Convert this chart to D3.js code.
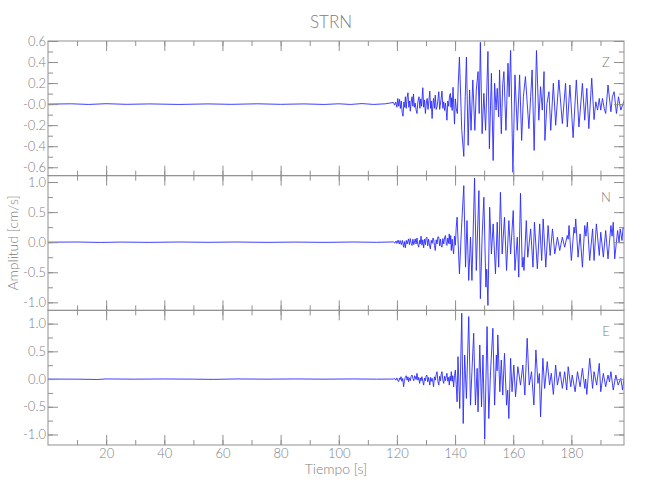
<!DOCTYPE html>
<html><head><meta charset="utf-8">
<script src="https://cdn.jsdelivr.net/npm/d3@7/dist/d3.min.js"></script>
<style>body{margin:0;background:#fff}text{font-family:Lato,"DejaVu Sans Condensed",sans-serif;font-weight:300;fill:#808080}</style>
</head><body><svg id="c" width="650" height="500"></svg>
<script>
// ---------- data ----------
const zTime=[0,8,14,20,27,35,45,55,63,72,80,88,95,100,104,108,112,116,
118.8,119.2,119.6,120.0,120.3,120.6,120.9,121.2,121.5,121.8,122.1,122.4,122.7,122.9,123.2,123.5,123.8,124.1,124.4,124.6,124.9,125.2,125.5,125.7,126.0,126.3,126.6,126.9,127.2,127.6,127.9,128.2,128.5,128.9,129.2,129.5,129.8,130.1,130.4,130.7,131.0,131.3,131.6,131.8,132.1,132.4,132.6,132.9,133.2,133.5,133.8,134.1,134.4,134.7,134.9,135.2,135.5,135.8,136.1,136.4,136.7,137.0,137.2,137.5,137.8,138.1,138.4,138.6,138.8,139.0,139.3,139.6,139.8,140.1,140.4,140.8,141.1,
141.5,142.3,143.0,143.5,143.9,144.5,145.0,145.5,146.1,146.8,147.3,147.9,148.3,148.7,149.3,149.9,150.5,151.3,151.8,152.5,153.1,153.6,154.1,154.5,155.0,155.3,155.9,156.4,156.8,157.5,158.2,158.6,159.1,159.9,160.6,161.4,162.2,162.9,163.5,164.2,165.4,166.0,166.5,167.2,168.0,168.8,169.4,170.0,170.6,170.9,171.6,172.3,172.9,173.8,174.6,175.7,176.9,178.0,178.6,179.5,180.6,181.7,182.6,183.8,184.6,185.3,186.0,187.0,187.8,188.4,189.0,189.6,190.1,190.7,191.3,191.8,192.6,193.6,194.1,194.7,195.5,196.2,197.0,198.2];
const zAmp=[0,0.003,-0.003,0.004,-0.002,0.002,-0.003,0.002,-0.002,0.003,-0.002,0.002,-0.003,0.003,-0.003,0.005,-0.003,0.003,
0.016,-0.010,0.020,-0.030,0.054,-0.020,0.045,-0.041,0.030,-0.080,-0.115,0.020,-0.030,0.070,-0.040,0.060,0.108,-0.030,0.030,-0.067,0.020,0.070,-0.020,0.096,-0.030,0.010,-0.057,-0.089,0.020,0.070,-0.040,0.050,-0.020,0.156,-0.030,0.040,-0.089,0.010,0.054,-0.050,0.030,0.124,-0.040,0.030,-0.137,0.010,0.054,-0.040,0.086,-0.050,-0.026,0.040,0.118,-0.050,-0.010,0.050,0.124,-0.040,0.022,-0.060,0.010,-0.080,-0.153,0.030,-0.020,0.080,0.102,-0.030,0.060,-0.060,0.160,-0.050,-0.190,0.050,-0.040,-0.090,0.200,
0.447,-0.249,-0.497,0.070,0.447,-0.392,0.134,-0.249,0.230,-0.249,0.134,0.309,-0.089,0.587,-0.281,0.102,-0.249,0.501,-0.424,0.293,-0.536,0.198,-0.057,0.150,-0.121,0.325,-0.281,0.198,0.309,-0.249,0.389,0.070,0.510,-0.648,0.278,-0.249,0.278,-0.345,0.070,0.262,-0.233,0.070,0.325,-0.440,0.510,-0.153,0.166,-0.057,0.309,-0.345,0.006,0.118,-0.249,0.198,-0.201,0.230,-0.185,0.198,-0.217,0.182,-0.319,0.230,-0.217,0.198,-0.153,0.150,-0.233,0.246,-0.147,0.022,-0.057,0.054,-0.057,0.054,-0.041,-0.089,0.182,-0.073,0.070,0.118,-0.089,0.070,-0.057,0.038];

const nTime=[0,10,18,25,35,45,55,65,75,85,95,105,113,
118.8,119.3,119.7,120.0,120.4,120.8,121.1,121.5,121.9,122.3,122.6,122.9,123.2,123.5,124.0,124.3,124.6,124.9,125.2,125.5,125.8,126.3,126.6,126.9,127.2,127.5,127.8,128.0,128.3,128.6,128.9,129.2,129.5,129.8,130.0,130.3,130.6,130.9,131.2,131.5,131.8,132.1,132.4,132.6,132.9,133.2,133.5,133.8,134.1,134.4,134.7,135.0,135.2,135.5,135.8,136.1,136.4,136.7,137.0,137.2,137.5,137.8,138.0,138.3,138.5,138.7,139.0,139.2,139.5,139.8,140.1,140.4,
140.7,141.5,142.2,143.0,143.6,144.1,144.7,145.3,145.8,146.7,147.3,148.2,148.7,149.3,149.9,150.6,150.9,151.3,151.9,152.5,153.1,153.9,154.5,155.0,155.6,156.2,157.0,157.7,158.5,159.1,160.0,160.6,161.4,161.9,162.5,163.1,163.4,163.7,164.5,165.0,166.0,166.8,167.3,168.3,169.1,169.8,170.3,171.2,172.0,172.7,173.5,174.3,175.2,176.0,176.9,177.7,178.6,178.9,179.2,180.0,180.9,181.2,181.5,182.3,183.0,183.8,184.6,185.0,185.5,186.3,187.3,187.8,188.6,189.6,190.1,191.0,191.8,192.6,193.6,194.0,194.4,194.9,195.9,196.4,196.8,197.4,197.8,198.3];
const nAmp=[0,0.003,-0.004,0.002,-0.003,0.003,-0.002,0.003,-0.003,0.002,-0.003,0.003,-0.002,
0.004,-0.015,0.020,-0.020,0.035,-0.030,0.028,-0.040,0.030,-0.083,0.010,-0.094,0.030,-0.030,0.055,-0.040,0.060,-0.020,-0.055,0.050,-0.040,0.055,-0.030,0.070,-0.040,-0.083,0.030,-0.030,0.100,-0.050,0.040,-0.094,0.050,-0.040,0.060,0.083,-0.060,0.050,-0.050,-0.111,0.030,-0.020,0.070,0.055,-0.050,-0.138,0.040,-0.030,0.090,0.083,-0.060,0.050,-0.050,-0.083,0.060,-0.030,0.080,0.111,-0.040,-0.055,0.070,-0.020,0.138,-0.030,0.110,-0.138,0.050,-0.080,-0.194,0.100,-0.050,0.250,
0.415,-0.525,0.221,0.940,-0.415,0.359,-0.636,0.083,-0.636,1.067,-0.470,0.857,-0.940,0.083,0.747,-0.747,-0.450,-1.051,0.581,-0.194,0.304,-0.525,0.332,-0.415,0.830,-0.194,0.415,-0.470,0.359,-0.194,0.525,-0.470,0.083,-0.581,0.813,-0.415,-0.250,-0.470,0.359,-0.249,0.221,-0.415,0.332,-0.442,0.304,-0.304,0.387,-0.415,0.277,-0.221,0.221,-0.194,0.083,-0.138,0.083,-0.083,0.111,0.050,0.277,-0.304,0.249,0.150,0.387,-0.249,0.138,-0.415,0.277,0.100,0.332,-0.304,0.221,-0.304,0.304,-0.221,0.166,-0.249,0.194,-0.277,0.277,0.100,0.332,-0.277,0.194,0.000,0.221,0.028,0.250,0.200];

const eTime=[0,10,17,20,30,40,50,57,65,75,85,95,105,113,
118.8,119.2,119.6,120.0,120.3,120.6,120.9,121.1,121.4,121.7,122.0,122.3,122.6,122.9,123.2,123.5,123.8,124.0,124.3,124.6,124.9,125.2,125.5,125.8,126.1,126.3,126.6,126.9,127.2,127.5,127.8,128.1,128.3,128.6,128.9,129.2,129.5,129.8,130.0,130.3,130.6,130.9,131.3,131.6,131.8,132.1,132.4,132.6,132.9,133.2,133.5,133.8,134.1,134.4,134.7,135.0,135.2,135.5,135.8,136.1,136.4,136.7,137.0,137.2,137.5,137.8,138.0,138.3,138.5,138.7,139.0,139.2,139.5,139.8,140.1,140.4,
140.7,141.0,141.6,142.3,142.8,143.3,143.9,144.7,145.3,145.8,146.4,147.0,147.6,147.9,148.5,149.1,149.6,150.2,151.0,151.6,152.2,153.0,153.6,154.2,154.45,154.7,155.4,155.9,156.4,157.0,157.7,158.1,158.5,159.1,159.6,160.2,160.8,161.6,162.5,163.3,164.0,164.8,165.5,166.3,167.1,167.8,168.5,169.0,169.4,170.2,170.8,171.7,172.5,173.1,173.8,174.6,175.2,176.1,176.9,177.7,178.4,178.9,179.8,180.3,181.3,182.1,183.0,183.8,184.6,184.9,185.3,186.3,187.3,187.8,188.7,189.6,190.1,191.0,191.8,192.6,193.1,193.6,194.4,195.3,196.1,197.0,197.6,198.4];
const eAmp=[0,-0.002,-0.008,0.002,-0.002,0.002,-0.002,-0.006,0.002,-0.002,0.002,-0.002,0.002,-0.002,
0.000,0.010,-0.020,0.020,-0.030,-0.048,0.020,-0.010,0.042,-0.040,0.010,-0.139,-0.020,0.030,0.060,-0.020,0.040,-0.048,0.020,-0.030,0.050,0.072,0.010,-0.030,0.060,0.042,-0.010,0.103,-0.020,0.030,-0.078,0.020,-0.030,0.042,-0.040,-0.109,0.020,-0.030,0.050,0.072,-0.050,0.030,-0.109,0.030,-0.040,0.012,-0.060,-0.139,0.040,-0.020,0.080,0.133,-0.040,-0.109,0.050,-0.030,0.080,0.133,-0.020,-0.078,0.050,-0.030,0.060,0.103,-0.040,0.030,-0.109,0.050,-0.030,0.133,-0.040,0.060,-0.139,0.060,0.163,-0.100,
-0.410,0.404,-0.531,1.188,-0.802,0.434,-0.350,1.128,-0.470,0.133,0.826,-0.470,0.193,-0.591,0.615,-0.500,0.434,-1.085,0.947,-0.712,0.133,0.917,-0.470,0.434,0.150,0.796,-0.229,0.344,-0.289,0.464,-0.470,-0.200,-0.712,0.374,-0.229,0.253,-0.320,0.223,-0.109,0.253,-0.289,0.736,-0.109,0.133,-0.470,0.525,-0.078,0.100,-0.681,0.374,-0.169,0.314,-0.109,0.103,-0.277,0.253,-0.109,0.133,-0.169,0.133,-0.199,0.223,-0.139,0.072,-0.229,0.133,-0.139,0.193,-0.169,0.000,-0.277,0.374,-0.169,0.133,-0.109,0.283,-0.229,0.103,-0.139,0.072,-0.050,0.133,-0.199,0.072,-0.109,0.012,-0.199,0.133];

const componentNames=["Z","N","E"];
const yDomains=[[-0.68,0.60],[-1.133,1.106],[-1.19,1.24]];
const yMajor=[[-0.6,-0.4,-0.2,0,0.2,0.4,0.6],[-1,-0.5,0,0.5,1],[-1,-0.5,0,0.5,1]];
const yMajorLabels=[["-0.6","-0.4","-0.2","-0.0","0.2","0.4","0.6"],["-1.0","-0.5","0.0","0.5","1.0"],["-1.0","-0.5","0.0","0.5","1.0"]];
const yMinor=[[-0.6,-0.5,-0.4,-0.3,-0.2,-0.1,0,0.1,0.2,0.3,0.4,0.5,0.6],[-1,-0.75,-0.5,-0.25,0,0.25,0.5,0.75,1],[-1,-0.75,-0.5,-0.25,0,0.25,0.5,0.75,1]];
const xMajor=[20,40,60,80,100,120,140,160,180];
const xMinor=[10,20,30,40,50,60,70,80,90,100,110,120,130,140,150,160,170,180,190];
const xDomain=[0,198.1];
const titleText="STRN", xLabel="Tiempo  [s]", yLabel="Amplitud  [cm/s]";

// ---------- drawing ----------
const series=[[zTime,zAmp],[nTime,nAmp],[eTime,eAmp]];
const svg=d3.select("#c");
const L=48,R=624,T=41,B=445;
const ph=(B-T)/3;
const x=d3.scaleLinear().domain(xDomain).range([L,R]);
const axisCol="#909090";

svg.append("text").attr("x",331).attr("y",28).attr("text-anchor","middle").style("font-size","17px").text(titleText);

series.forEach((s,i)=>{
  const top=T+i*ph, bot=top+ph;
  const y=d3.scaleLinear().domain(yDomains[i]).range([bot,top]);
  const g=svg.append("g");
  g.append("clipPath").attr("id","cp"+i).append("rect").attr("x",L).attr("y",top).attr("width",R-L).attr("height",ph);
  const pts=s[0].map((t,k)=>[t,s[1][k]]);
  g.append("path").datum(pts).attr("clip-path","url(#cp"+i+")")
    .attr("fill","none").attr("stroke","#2a2aff").attr("stroke-width",0.9).attr("stroke-linejoin","round")
    .attr("d",d3.line().x(d=>x(d[0])).y(d=>y(d[1])));
  g.append("rect").attr("x",L).attr("y",top).attr("width",R-L).attr("height",ph).attr("fill","none").attr("stroke",axisCol);
  const mk=(axis,tr)=>{const a=g.append("g").attr("transform",tr).call(axis);a.select(".domain").remove();a.selectAll("line").attr("stroke",axisCol);return a;};
  mk(d3.axisBottom(x).tickValues(xMinor).tickSizeInner(-5).tickSizeOuter(0).tickFormat(""),`translate(0,${bot})`);
  mk(d3.axisTop(x).tickValues(xMinor).tickSizeInner(-5).tickSizeOuter(0).tickFormat(""),`translate(0,${top})`);
  const xb=mk(d3.axisBottom(x).tickValues(xMajor).tickSizeInner(-10).tickSizeOuter(0).tickPadding(4).tickFormat(i===2?d3.format("d"):""),`translate(0,${bot})`);
  mk(d3.axisTop(x).tickValues(xMajor).tickSizeInner(-10).tickSizeOuter(0).tickFormat(""),`translate(0,${top})`);
  xb.selectAll("text").style("font-size","13px");
  mk(d3.axisLeft(y).tickValues(yMinor[i]).tickSizeInner(-5).tickSizeOuter(0).tickFormat(""),`translate(${L},0)`);
  mk(d3.axisRight(y).tickValues(yMinor[i]).tickSizeInner(-5).tickSizeOuter(0).tickFormat(""),`translate(${R},0)`);
  const yl=mk(d3.axisLeft(y).tickValues(yMajor[i]).tickSizeInner(-10).tickSizeOuter(0).tickPadding(2).tickFormat((d,k)=>yMajorLabels[i][k]),`translate(${L},0)`);
  yl.selectAll("text").style("font-size","13px");
  mk(d3.axisRight(y).tickValues(yMajor[i]).tickSizeInner(-10).tickSizeOuter(0).tickFormat(""),`translate(${R},0)`);
  svg.append("text").attr("x",R-18).attr("y",top+26).attr("text-anchor","middle").style("font-size","13px").text(componentNames[i]);
});
svg.selectAll(".tick text").attr("fill",null);
svg.append("text").attr("x",(L+R)/2).attr("y",474).attr("text-anchor","middle").style("font-size","14px").text(xLabel);
svg.append("text").attr("transform",`translate(18,${T+1.5*ph}) rotate(-90)`).attr("text-anchor","middle").style("font-size","14px").text(yLabel);
</script></body></html>
